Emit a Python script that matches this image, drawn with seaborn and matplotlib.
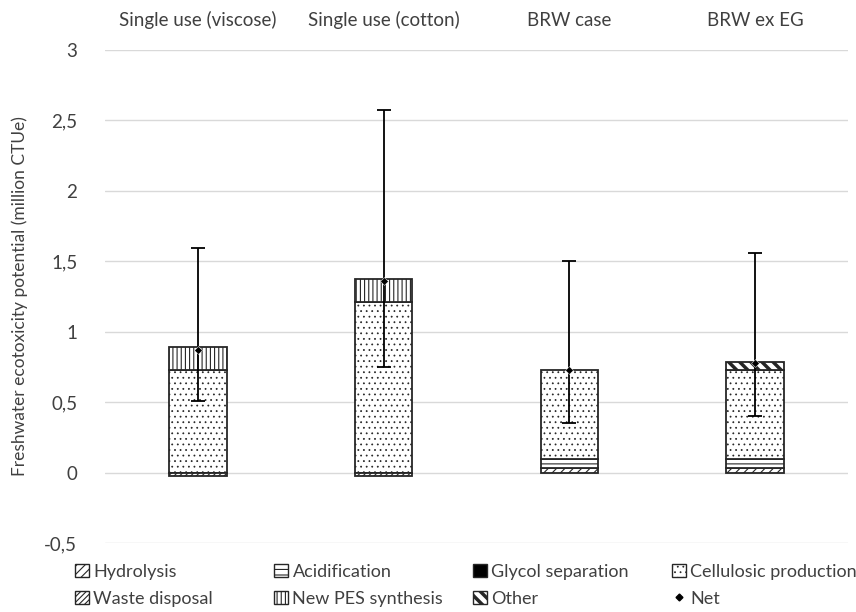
import matplotlib
matplotlib.use("Agg")
import matplotlib.pyplot as plt
import seaborn as sns
import pandas as pd
import numpy as np
from matplotlib.patches import Patch
from matplotlib.lines import Line2D
from matplotlib.ticker import FuncFormatter, MultipleLocator

categories = ["Single use (viscose)", "Single use (cotton)", "BRW case", "BRW ex EG"]
hydrolysis = [0.0, 0.0, 0.035, 0.035]
acidification = [0.0, 0.0, 0.065, 0.065]
glycol_separation = [0.0, 0.0, 0.0, 0.0]
cellulosic_production = [0.725, 1.21, 0.63, 0.625]
new_pes_synthesis = [0.165, 0.167, 0.0, 0.0]
other = [0.0, 0.0, 0.0, 0.06]
waste_disposal = [-0.022, -0.022, 0.0, 0.0]
net = [0.867, 1.36, 0.73, 0.78]
err_low = [0.505, 0.75, 0.35, 0.40]
err_high = [1.594, 2.573, 1.50, 1.556]

sns.set_theme(style="white")
plt.rcParams["font.family"] = ["Lato", "DejaVu Sans"]
plt.rcParams["hatch.linewidth"] = 0.8

TXT = "#404040"
EDGE = "#262626"
FS = 13.5

fig = plt.figure(figsize=(8.56, 6.12), dpi=100)
ax = fig.add_axes([0.1227, 0.1127, 0.868, 0.8056])

layers = [
    ("Hydrolysis", hydrolysis, "white", "////"),
    ("Acidification", acidification, "white", "---"),
    ("Glycol separation", glycol_separation, "black", None),
    ("Cellulosic production", cellulosic_production, "white", "..."),
    ("New PES synthesis", new_pes_synthesis, "white", "||||"),
    ("Other", other, "white", "\\\\\\"),
]
hatch_lw = {"Other": 2.5, "Cellulosic production": 0.55}


def set_hlw(artists, lw):
    for a in artists:
        if hasattr(a, "set_hatch_linewidth"):
            try:
                a.set_hatch_linewidth(lw)
            except Exception:
                pass


bottoms = np.zeros(len(categories))
for name, vals, fc, hatch in layers:
    vals = np.array(vals, dtype=float)
    mask = vals > 0
    if mask.any():
        df = pd.DataFrame({"cat": np.array(categories)[mask], "val": vals[mask],
                           "bot": bottoms[mask]})
        n0 = len(ax.patches)
        sns.barplot(data=df, x="cat", y="val", order=categories, bottom=df["bot"].values,
                    color=fc, edgecolor=EDGE, linewidth=1.3, hatch=hatch,
                    width=0.31, errorbar=None, saturation=1, ax=ax)
        if name in hatch_lw:
            set_hlw(ax.patches[n0:], hatch_lw[name])
    bottoms = bottoms + np.where(vals > 0, vals, 0)

# negative waste disposal
wd = np.array(waste_disposal, dtype=float)
mask = wd < 0
df = pd.DataFrame({"cat": np.array(categories)[mask], "val": wd[mask]})
sns.barplot(data=df, x="cat", y="val", order=categories, color="white",
            edgecolor=EDGE, linewidth=1.3, hatch="//////", width=0.31,
            errorbar=None, saturation=1, ax=ax)

# net with error bars
xs = np.arange(len(categories))
net_a = np.array(net)
yerr = np.vstack([net_a - np.array(err_low), np.array(err_high) - net_a])
ax.errorbar(xs, net_a, yerr=yerr, fmt="none", ecolor="black", elinewidth=1.3,
            capsize=5, capthick=1.3, zorder=5)
sns.scatterplot(x=xs, y=net_a, marker="D", s=16, color="black", ax=ax, zorder=6,
                legend=False)

ax.set_xlim(-0.5, 3.5)
ax.set_ylim(-0.5, 3.0)
ax.yaxis.set_major_locator(MultipleLocator(0.5))
ax.yaxis.set_major_formatter(FuncFormatter(lambda v, p: f"{v:g}".replace(".", ",")))
ax.grid(axis="y", color="#d9d9d9", linewidth=1)
ax.set_axisbelow(True)
for s in ax.spines.values():
    s.set_visible(False)
ax.xaxis.tick_top()
ax.set_xticks(xs)
ax.set_xticklabels(categories)
ax.tick_params(axis="x", length=0, pad=15, labelsize=FS, colors=TXT)
ax.tick_params(axis="y", length=0, pad=20, labelsize=FS, colors=TXT)
ax.set_xlabel("")
ax.set_ylabel("Freshwater ecotoxicity potential (million CTUe)", fontsize=12.5,
              color=TXT, labelpad=12)

col_handles = [
    [Patch(facecolor="white", edgecolor=EDGE, hatch="////", label="Hydrolysis"),
     Patch(facecolor="white", edgecolor=EDGE, hatch="//////", label="Waste disposal")],
    [Patch(facecolor="white", edgecolor=EDGE, hatch="---", label="Acidification"),
     Patch(facecolor="white", edgecolor=EDGE, hatch="||||", label="New PES synthesis")],
    [Patch(facecolor="black", edgecolor=EDGE, label="Glycol separation"),
     Patch(facecolor="white", edgecolor=EDGE, hatch="\\\\\\", label="Other")],
    [Patch(facecolor="white", edgecolor=EDGE, hatch="...", label="Cellulosic production"),
     Line2D([], [], marker="D", color="black", linestyle="none", markersize=3.5, label="Net")],
]
col_x = [67, 266, 465, 664]
for cx, hs in zip(col_x, col_handles):
    leg = fig.legend(handles=hs, ncol=1, loc="lower left",
                     bbox_to_anchor=(cx / 856 - 0.006, -0.012),
                     frameon=False, fontsize=13, handlelength=0.8, handleheight=0.8,
                     handletextpad=0.25, labelspacing=0.6, borderpad=0.2)
    for t in leg.get_texts():
        t.set_color(TXT)
    for h in leg.legend_handles:
        if h.get_label() in hatch_lw:
            set_hlw([h], hatch_lw[h.get_label()])

fig.savefig("out.png", dpi=100)
